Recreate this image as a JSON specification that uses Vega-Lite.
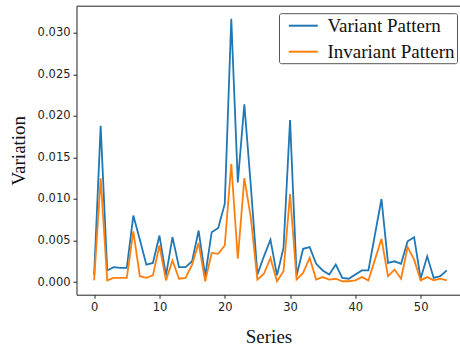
{
  "$schema": "https://vega.github.io/schema/vega-lite/v6.json",
  "width": 384,
  "height": 289,
  "autosize": {"type": "none"},
  "padding": {"left": 76.5, "top": 5.7, "right": 0, "bottom": 54},
  "config": {
    "view": {"stroke": null},
    "axis": {
      "grid": false,
      "domainColor": "#222",
      "domainWidth": 1,
      "tickColor": "#222",
      "tickSize": 3.5,
      "labelFont": "DejaVu Sans",
      "labelFontSize": 11.5,
      "labelColor": "#222",
      "labelPadding": 3,
      "titleFont": "Liberation Serif",
      "titleFontSize": 19,
      "titleFontWeight": "normal",
      "titleColor": "#111"
    }
  },
  "data": {
    "values": [
      {"x":0,"s":"Variant Pattern","v":0.0008},{"x":0,"s":"Invariant Pattern","v":0.0002},
      {"x":1,"s":"Variant Pattern","v":0.0188},{"x":1,"s":"Invariant Pattern","v":0.0125},
      {"x":2,"s":"Variant Pattern","v":0.0014},{"x":2,"s":"Invariant Pattern","v":0.0002},
      {"x":3,"s":"Variant Pattern","v":0.0018},{"x":3,"s":"Invariant Pattern","v":0.0005},
      {"x":4,"s":"Variant Pattern","v":0.0017},{"x":4,"s":"Invariant Pattern","v":0.0005},
      {"x":5,"s":"Variant Pattern","v":0.0017},{"x":5,"s":"Invariant Pattern","v":0.0005},
      {"x":6,"s":"Variant Pattern","v":0.0080},{"x":6,"s":"Invariant Pattern","v":0.0061},
      {"x":7,"s":"Variant Pattern","v":0.0051},{"x":7,"s":"Invariant Pattern","v":0.0007},
      {"x":8,"s":"Variant Pattern","v":0.0021},{"x":8,"s":"Invariant Pattern","v":0.0005},
      {"x":9,"s":"Variant Pattern","v":0.0023},{"x":9,"s":"Invariant Pattern","v":0.0008},
      {"x":10,"s":"Variant Pattern","v":0.0056},{"x":10,"s":"Invariant Pattern","v":0.0044},
      {"x":11,"s":"Variant Pattern","v":0.0008},{"x":11,"s":"Invariant Pattern","v":0.0002},
      {"x":12,"s":"Variant Pattern","v":0.0054},{"x":12,"s":"Invariant Pattern","v":0.0026},
      {"x":13,"s":"Variant Pattern","v":0.0018},{"x":13,"s":"Invariant Pattern","v":0.0004},
      {"x":14,"s":"Variant Pattern","v":0.0018},{"x":14,"s":"Invariant Pattern","v":0.0005},
      {"x":15,"s":"Variant Pattern","v":0.0025},{"x":15,"s":"Invariant Pattern","v":0.0021},
      {"x":16,"s":"Variant Pattern","v":0.0062},{"x":16,"s":"Invariant Pattern","v":0.0047},
      {"x":17,"s":"Variant Pattern","v":0.0007},{"x":17,"s":"Invariant Pattern","v":0.0001},
      {"x":18,"s":"Variant Pattern","v":0.0060},{"x":18,"s":"Invariant Pattern","v":0.0035},
      {"x":19,"s":"Variant Pattern","v":0.0065},{"x":19,"s":"Invariant Pattern","v":0.0034},
      {"x":20,"s":"Variant Pattern","v":0.0094},{"x":20,"s":"Invariant Pattern","v":0.0044},
      {"x":21,"s":"Variant Pattern","v":0.0317},{"x":21,"s":"Invariant Pattern","v":0.0142},
      {"x":22,"s":"Variant Pattern","v":0.0120},{"x":22,"s":"Invariant Pattern","v":0.0028},
      {"x":23,"s":"Variant Pattern","v":0.0214},{"x":23,"s":"Invariant Pattern","v":0.0125},
      {"x":24,"s":"Variant Pattern","v":0.0115},{"x":24,"s":"Invariant Pattern","v":0.0077},
      {"x":25,"s":"Variant Pattern","v":0.0009},{"x":25,"s":"Invariant Pattern","v":0.0003},
      {"x":26,"s":"Variant Pattern","v":0.0031},{"x":26,"s":"Invariant Pattern","v":0.0010},
      {"x":27,"s":"Variant Pattern","v":0.0051},{"x":27,"s":"Invariant Pattern","v":0.0029},
      {"x":28,"s":"Variant Pattern","v":0.0008},{"x":28,"s":"Invariant Pattern","v":0.0001},
      {"x":29,"s":"Variant Pattern","v":0.0041},{"x":29,"s":"Invariant Pattern","v":0.0013},
      {"x":30,"s":"Variant Pattern","v":0.0195},{"x":30,"s":"Invariant Pattern","v":0.0106},
      {"x":31,"s":"Variant Pattern","v":0.0008},{"x":31,"s":"Invariant Pattern","v":0.0003},
      {"x":32,"s":"Variant Pattern","v":0.0040},{"x":32,"s":"Invariant Pattern","v":0.0011},
      {"x":33,"s":"Variant Pattern","v":0.0042},{"x":33,"s":"Invariant Pattern","v":0.0029},
      {"x":34,"s":"Variant Pattern","v":0.0022},{"x":34,"s":"Invariant Pattern","v":0.0003},
      {"x":35,"s":"Variant Pattern","v":0.0014},{"x":35,"s":"Invariant Pattern","v":0.0006},
      {"x":36,"s":"Variant Pattern","v":0.0009},{"x":36,"s":"Invariant Pattern","v":0.0003},
      {"x":37,"s":"Variant Pattern","v":0.0021},{"x":37,"s":"Invariant Pattern","v":0.0004},
      {"x":38,"s":"Variant Pattern","v":0.0005},{"x":38,"s":"Invariant Pattern","v":0.0001},
      {"x":39,"s":"Variant Pattern","v":0.0004},{"x":39,"s":"Invariant Pattern","v":0.0001},
      {"x":40,"s":"Variant Pattern","v":0.0009},{"x":40,"s":"Invariant Pattern","v":0.0002},
      {"x":41,"s":"Variant Pattern","v":0.0014},{"x":41,"s":"Invariant Pattern","v":0.0006},
      {"x":42,"s":"Variant Pattern","v":0.0014},{"x":42,"s":"Invariant Pattern","v":0.0002},
      {"x":43,"s":"Variant Pattern","v":0.0057},{"x":43,"s":"Invariant Pattern","v":0.0027},
      {"x":44,"s":"Variant Pattern","v":0.0100},{"x":44,"s":"Invariant Pattern","v":0.0052},
      {"x":45,"s":"Variant Pattern","v":0.0023},{"x":45,"s":"Invariant Pattern","v":0.0007},
      {"x":46,"s":"Variant Pattern","v":0.0025},{"x":46,"s":"Invariant Pattern","v":0.0015},
      {"x":47,"s":"Variant Pattern","v":0.0022},{"x":47,"s":"Invariant Pattern","v":0.0004},
      {"x":48,"s":"Variant Pattern","v":0.0049},{"x":48,"s":"Invariant Pattern","v":0.0042},
      {"x":49,"s":"Variant Pattern","v":0.0054},{"x":49,"s":"Invariant Pattern","v":0.0027},
      {"x":50,"s":"Variant Pattern","v":0.0004},{"x":50,"s":"Invariant Pattern","v":0.0002},
      {"x":51,"s":"Variant Pattern","v":0.0031},{"x":51,"s":"Invariant Pattern","v":0.0006},
      {"x":52,"s":"Variant Pattern","v":0.0005},{"x":52,"s":"Invariant Pattern","v":0.0002},
      {"x":53,"s":"Variant Pattern","v":0.0007},{"x":53,"s":"Invariant Pattern","v":0.0004},
      {"x":54,"s":"Variant Pattern","v":0.0014},{"x":54,"s":"Invariant Pattern","v":0.0002}
    ]
  },
  "resolve": {"axis": {"x": "independent"}},
  "layer": [
    {
      "mark": {"type": "line", "strokeWidth": 1.8},
      "encoding": {
        "x": {
          "field": "x", "type": "quantitative",
          "scale": {"domain": [-2.7, 56.1], "nice": false, "zero": false},
          "axis": {"values": [0, 10, 20, 30, 40, 50], "title": "Series", "titlePadding": 15}
        },
        "y": {
          "field": "v", "type": "quantitative",
          "scale": {"domain": [-0.00152, 0.03326], "nice": false, "zero": false},
          "axis": {"values": [0, 0.005, 0.01, 0.015, 0.02, 0.025, 0.03], "format": ".3f", "title": "Variation", "titlePadding": 9}
        },
        "color": {
          "field": "s", "type": "nominal",
          "scale": {"domain": ["Variant Pattern", "Invariant Pattern"], "range": ["#1f77b4", "#ff7f0e"]},
          "legend": {
            "title": null,
            "orient": "none",
            "legendX": 202.5,
            "legendY": 7.5,
            "direction": "vertical",
            "symbolType": "M-1.45,0H1.45",
            "symbolSize": 400,
            "symbolStrokeWidth": 2,
            "symbolOffset": 11.8,
            "labelFont": "Liberation Serif",
            "labelFontSize": 19,
            "labelColor": "#111",
            "labelOffset": 13.2,
            "rowPadding": 5,
            "padding": 1.5,
            "strokeColor": "#555",
            "fillColor": "white",
            "cornerRadius": 2
          }
        }
      }
    },
    {
      "mark": {"type": "line", "strokeOpacity": 0},
      "encoding": {
        "x": {
          "field": "x", "type": "quantitative",
          "axis": {"orient": "top", "labels": false, "ticks": false, "title": null, "domain": true}
        },
        "y": {"field": "v", "type": "quantitative"},
        "detail": {"field": "s"}
      }
    }
  ]
}
